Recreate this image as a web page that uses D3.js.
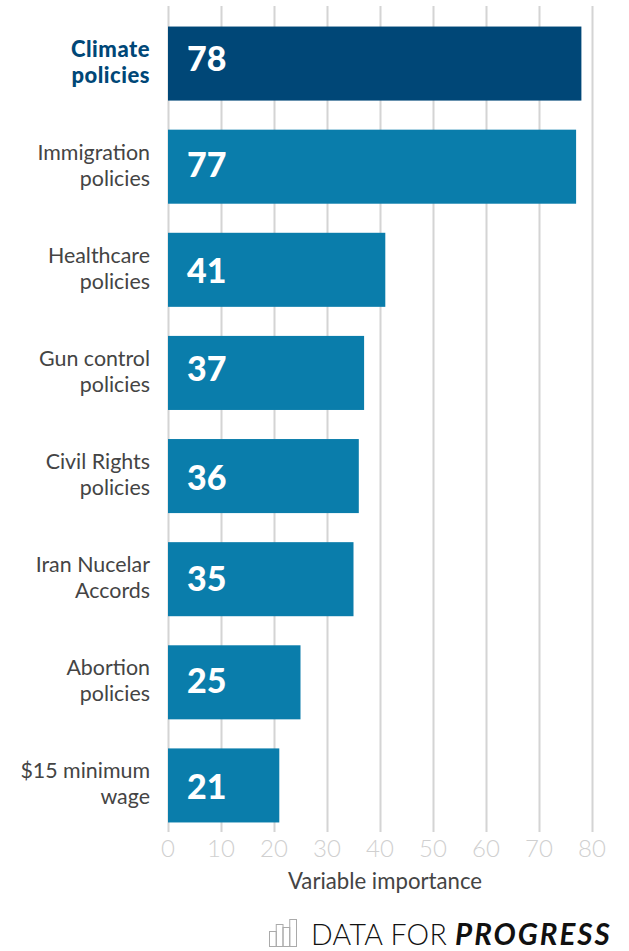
<!DOCTYPE html>
<html>
<head>
<meta charset="utf-8">
<script src="https://cdnjs.cloudflare.com/ajax/libs/d3/7.8.5/d3.min.js"></script>
<style>
html,body{margin:0;padding:0;background:#fff;}
svg{display:block;}
text{font-family:Lato,"Open Sans",sans-serif;}
</style>
</head>
<body>
<svg id="chart" width="629" height="951"></svg>
<script>
const categories = [
  ["Climate","policies"],
  ["Immigration","policies"],
  ["Healthcare","policies"],
  ["Gun control","policies"],
  ["Civil Rights","policies"],
  ["Iran Nucelar","Accords"],
  ["Abortion","policies"],
  ["$15 minimum","wage"]
];
const importance = [78,77,41,37,36,35,25,21];
const xTicks = [0,10,20,30,40,50,60,70,80];
const logoBars = [15,22,19,27];
// hand-placed vertical nudges for the value labels
const valueNudge = [-5,-2,1,-4,2,0,-1,2];

const svg = d3.select("#chart");
const x = d3.scaleLinear().domain([0,80]).range([168,592]);
const y = d3.scaleBand().domain(d3.range(categories.length)).range([12,837]).paddingInner(0.282).paddingOuter(0.141);

// vertical grid
svg.append("g").selectAll("line").data(xTicks).join("line")
  .attr("x1",d=>x(d)+0.5).attr("x2",d=>x(d)+0.5)
  .attr("y1",6).attr("y2",832)
  .attr("stroke","#d4d4d4").attr("stroke-width",2);

// bars, with the leading category emphasised
svg.append("g").selectAll("rect").data(importance).join("rect")
  .attr("x",x(0)).attr("y",(d,i)=>y(i))
  .attr("width",d=>x(d)-x(0)).attr("height",y.bandwidth())
  .attr("fill",(d,i)=>i===0?"#004777":"#0a7dab");

// value labels
svg.append("g").selectAll("text").data(importance).join("text")
  .attr("x",187).attr("y",(d,i)=>y(i)+y.bandwidth()/2+12+valueNudge[i])
  .attr("fill","#fff").attr("font-size",34).attr("font-weight",900)
  .text(d=>d);

// two-line category labels
const labels = svg.append("g").selectAll("text").data(categories).join("text")
  .attr("text-anchor","end")
  .attr("font-size",(d,i)=>i===0?22:21.4)
  .attr("letter-spacing",(d,i)=>i===0?0.5:0)
  .attr("font-weight",(d,i)=>i===0?900:400)
  .attr("fill",(d,i)=>i===0?"#004777":"#444");
labels.selectAll("tspan").data((d,i)=>d.map((t,k)=>({t,k,i}))).join("tspan")
  .attr("x",150)
  .attr("y",d=>y(d.i)+30+d.k*26)
  .text(d=>d.t);

// x axis tick labels and title
svg.append("g").selectAll("text").data(xTicks).join("text")
  .attr("x",d=>x(d)).attr("y",857)
  .attr("text-anchor","middle").attr("font-size",24).attr("font-weight",300)
  .attr("fill","#d0d0d0").text(d=>d);
svg.append("text").attr("x",385).attr("y",889).attr("text-anchor","middle")
  .attr("font-size",22.2).attr("fill","#444").text("Variable importance");

// wordmark with bar glyph
const logo = svg.append("g").attr("transform","translate(269,946)");
const lx = d3.scaleBand().domain(d3.range(logoBars.length)).range([0,27]);
logo.selectAll("rect").data(logoBars).join("rect")
  .attr("x",(d,i)=>lx(i)+0.5).attr("y",d=>-d+0.5)
  .attr("width",lx.bandwidth()).attr("height",d=>d)
  .attr("fill","none").attr("stroke","#aaa").attr("stroke-width",1);
const word = svg.append("text").attr("x",311).attr("y",945).attr("fill","#111");
word.append("tspan").attr("font-size",28.5).attr("font-weight",300).attr("letter-spacing",0.3).text("DATA FOR ");
word.append("tspan").attr("font-size",29.5).attr("font-weight",700).attr("font-style","italic").attr("letter-spacing",2).text("PROGRESS");
</script>
</body>
</html>
